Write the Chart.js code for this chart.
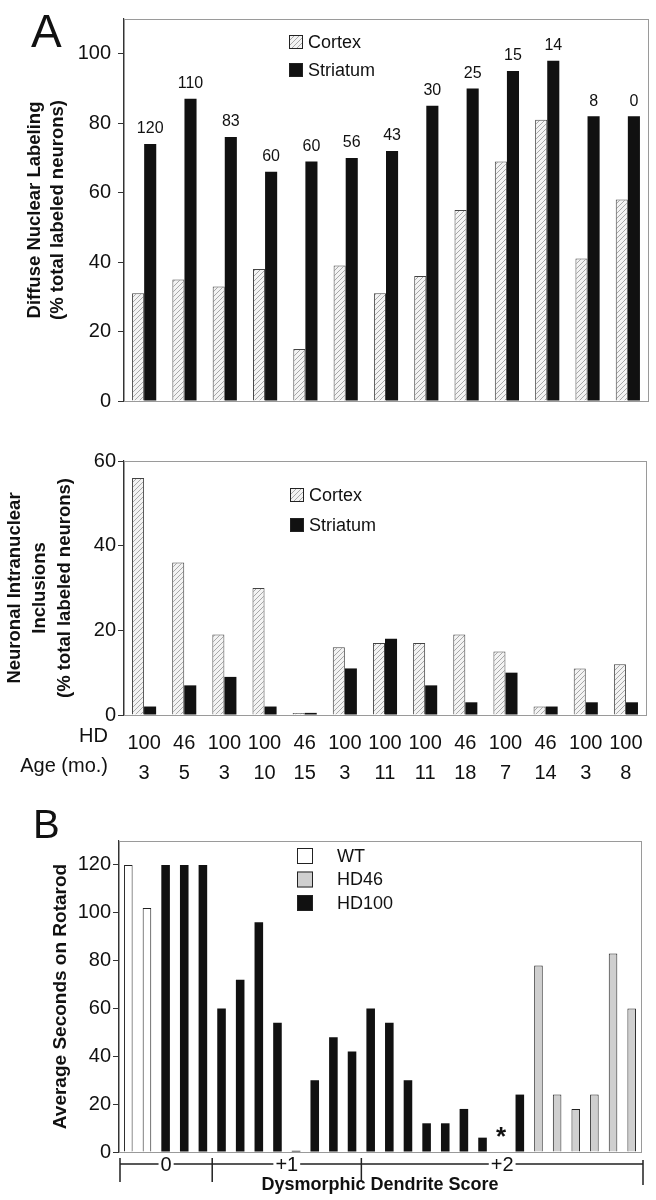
<!DOCTYPE html>
<html>
<head>
<meta charset="utf-8">
<script src="https://cdn.jsdelivr.net/npm/chart.js@4.4.1/dist/chart.umd.min.js"></script>
<style>
body { margin: 0; background: #fff; width: 656px; height: 1200px; position: relative; overflow: hidden; font-family: "Liberation Sans", Arial, sans-serif; }
.panel { position: absolute; left: 0; }
.letter { position: absolute; color: #111; z-index: 2; }
</style>
</head>
<body>
<canvas id="diffuseChart" class="panel" style="top:0" width="656" height="420"></canvas>
<canvas id="inclusionChart" class="panel" style="top:420px" width="656" height="370"></canvas>
<canvas id="rotarodChart" class="panel" style="top:790px" width="656" height="410"></canvas>
<div class="letter" style="left:31px;top:4px;font-size:46px;">A</div>
<div class="letter" style="left:33px;top:802px;font-size:40px;">B</div>
<script>
// panel A data (13 animals)
const hdLabels = ['100', '46', '100', '100', '46', '100', '100', '100', '46', '100', '46', '100', '100'];
const ageLabels = ['3', '5', '3', '10', '15', '3', '11', '11', '18', '7', '14', '3', '8'];
const neuronCounts = ['120', '110', '83', '60', '60', '56', '43', '30', '25', '15', '14', '8', '0'];
const diffuseCortex = [31, 35, 33, 38, 15, 39, 31, 36, 55, 69, 81, 41, 58];
const diffuseStriatum = [74, 87, 76, 66, 69, 70, 72, 85, 90, 95, 98, 82, 82];
const inclusionCortex = [56, 36, 19, 30, 0.5, 16, 17, 17, 19, 15, 2, 11, 12];
const inclusionStriatum = [2, 7, 9, 2, 0.5, 11, 18, 7, 3, 10, 2, 3, 3];

// panel B data (28 mice)
const mouseIds = ['1', '2', '3', '4', '5', '6', '7', '8', '9', '10', '11', '12', '13', '14',
    '15', '16', '17', '18', '19', '20', '21', '22', '23', '24', '25', '26', '27', '28'];
const wtSeconds = [120, 102, null, null, null, null, null, null, null, null, null, null, null, null,
    null, null, null, null, null, null, null, null, null, null, null, null, null, null];
const hd100Seconds = [null, null, 120, 120, 120, 60, 72, 96, 54, 0.5, 30, 48, 42, 60,
    54, 30, 12, 12, 18, 6, null, 24, null, null, null, null, null, null];
const hd46Seconds = [null, null, null, null, null, null, null, null, null, null, null, null, null, null,
    null, null, null, null, null, null, null, null, 78, 24, 18, 24, 83, 60];
const dendriteScores = [
    { label: '0', from: 0, to: 4 },
    { label: '+1', from: 5, to: 12 },
    { label: '+2', from: 13, to: 27 }
];
const starMouse = 20;

const FONT = '"Liberation Sans", Arial, sans-serif';
const INK = '#111';

function hatchPattern() {
    const c = document.createElement('canvas');
    c.width = 5; c.height = 5;
    const g = c.getContext('2d');
    g.fillStyle = '#f3f3f3';
    g.fillRect(0, 0, 5, 5);
    g.strokeStyle = '#a8a8a8';
    g.lineWidth = 1;
    g.beginPath();
    g.moveTo(0, 5); g.lineTo(5, 0);
    g.moveTo(-1, 1); g.lineTo(1, -1);
    g.moveTo(4, 6); g.lineTo(6, 4);
    g.stroke();
    return g.createPattern(c, 'repeat');
}
const hatch = hatchPattern();

// gray box round the plot area
const framePlugin = {
    id: 'frame',
    beforeDatasetsDraw(chart) {
        const { ctx, chartArea: a } = chart;
        ctx.save();
        ctx.strokeStyle = '#9a9a9a';
        ctx.lineWidth = 1;
        ctx.strokeRect(a.left + 0.5, a.top + 0.5, a.right - a.left, a.bottom - a.top);
        ctx.restore();
    }
};

// legend drawn inside the plot
const boxLegend = {
    id: 'boxLegend',
    afterDraw(chart, args, opts) {
        const { ctx, chartArea } = chart;
        ctx.save();
        ctx.font = opts.font;
        ctx.textBaseline = 'middle';
        chart.data.datasets.forEach((ds, i) => {
            const x = chartArea.left + opts.dx;
            const y = chartArea.top + opts.dy + i * opts.rowGap;
            ctx.fillStyle = ds.backgroundColor;
            ctx.fillRect(x, y, opts.box, opts.box);
            ctx.strokeStyle = '#222';
            ctx.lineWidth = 1;
            ctx.strokeRect(x + 0.5, y + 0.5, opts.box - 1, opts.box - 1);
            ctx.fillStyle = INK;
            ctx.fillText(ds.label, x + opts.box + opts.textGap, y + opts.box / 2 + 1);
        });
        ctx.restore();
    }
};

// neuron counts above the striatum bars
const countLabels = {
    id: 'countLabels',
    afterDatasetsDraw(chart) {
        const { ctx } = chart;
        const meta = chart.getDatasetMeta(1);
        ctx.save();
        ctx.font = '16px ' + FONT;
        ctx.fillStyle = INK;
        ctx.textAlign = 'center';
        ctx.textBaseline = 'bottom';
        meta.data.forEach((bar, i) => {
            ctx.fillText(neuronCounts[i], bar.x, bar.y - 7);
        });
        ctx.restore();
    }
};

// "HD" and "Age (mo.)" row names next to the tick labels
const rowNames = {
    id: 'rowNames',
    afterDraw(chart) {
        const { ctx, chartArea } = chart;
        ctx.save();
        ctx.font = '20px ' + FONT;
        ctx.fillStyle = INK;
        ctx.textAlign = 'right';
        ctx.textBaseline = 'middle';
        ctx.fillText('HD', 108, chartArea.bottom + 21);
        ctx.fillText('Age (mo.)', 108, chartArea.bottom + 51);
        ctx.restore();
    }
};

// score brackets under panel B and the asterisk
const scoreBrackets = {
    id: 'scoreBrackets',
    afterDraw(chart) {
        const { ctx, chartArea } = chart;
        const x = chart.scales.x, y = chart.scales.y;
        const slot = x.getPixelForValue(1) - x.getPixelForValue(0);
        const lineY = chartArea.bottom + 12;
        ctx.save();
        ctx.strokeStyle = '#222';
        ctx.lineWidth = 1.5;
        ctx.font = '20px ' + FONT;
        ctx.textAlign = 'center';
        ctx.textBaseline = 'middle';
        dendriteScores.forEach((g, i) => {
            const x0 = x.getPixelForValue(g.from) - slot / 2 + (i === 0 ? 1 : 0);
            const x1 = x.getPixelForValue(g.to) + slot / 2 + (i === dendriteScores.length - 1 ? 2 : 0);
            const mid = (x0 + x1) / 2;
            const half = ctx.measureText(g.label).width / 2 + 2;
            ctx.beginPath();
            ctx.moveTo(x0, lineY); ctx.lineTo(mid - half, lineY);
            ctx.moveTo(mid + half, lineY); ctx.lineTo(x1, lineY);
            ctx.moveTo(x0, lineY - 6); ctx.lineTo(x0, lineY + 18);
            if (i === dendriteScores.length - 1) {
                ctx.moveTo(x1, lineY - 4); ctx.lineTo(x1, lineY + 21);
            }
            ctx.stroke();
            ctx.fillStyle = INK;
            ctx.fillText(g.label, mid, lineY + 1);
        });
        ctx.font = 'bold 26px ' + FONT;
        ctx.textBaseline = 'alphabetic';
        ctx.fillText('*', x.getPixelForValue(starMouse), y.getPixelForValue(1) - 5);
        ctx.restore();
    }
};

function yAxis(width, max, title, titleSize, titleLineHeight, titlePadTop, tickPad) {
    return {
        min: 0,
        max: max,
        afterFit: s => { s.width = width; },
        afterBuildTicks: s => { s.ticks = s.ticks.filter(t => t.value % 20 === 0); },
        ticks: { stepSize: 20, padding: tickPad, color: INK, font: { family: FONT, size: 20 } },
        grid: { drawOnChartArea: false, tickLength: 6, color: '#333' },
        border: { display: true, color: '#333', width: 1.2 },
        title: {
            display: true,
            text: title,
            color: INK,
            font: { family: FONT, size: titleSize, weight: 'bold', lineHeight: titleLineHeight },
            padding: { top: titlePadTop, bottom: 0 }
        }
    };
}

Chart.defaults.animation = false;
Chart.defaults.responsive = false;
Chart.defaults.devicePixelRatio = 1;
Chart.defaults.plugins.legend.display = false;
Chart.defaults.plugins.tooltip.enabled = false;

new Chart(document.getElementById('diffuseChart'), {
    type: 'bar',
    data: {
        labels: hdLabels,
        datasets: [
            { label: 'Cortex', data: diffuseCortex, backgroundColor: hatch, borderColor: '#444', borderWidth: 1 },
            { label: 'Striatum', data: diffuseStriatum, backgroundColor: '#111', borderWidth: 0 }
        ]
    },
    options: {
        layout: { padding: { top: 7, right: 8, bottom: 13, left: 0 } },
        datasets: { bar: { categoryPercentage: 0.6, barPercentage: 1 } },
        scales: {
            x: { display: false },
            y: yAxis(124, 110, ['Diffuse Nuclear Labeling', '(% total labeled neurons)'], 18.5, 1.27, 23, 7)
        },
        plugins: {
            boxLegend: { dx: 165, dy: 16, box: 14, rowGap: 28, textGap: 5, font: '18px ' + FONT }
        }
    },
    plugins: [framePlugin, boxLegend, countLabels]
});

new Chart(document.getElementById('inclusionChart'), {
    type: 'bar',
    data: {
        labels: hdLabels.map((hd, i) => [hd, ageLabels[i]]),
        datasets: [
            { label: 'Cortex', data: inclusionCortex, backgroundColor: hatch, borderColor: '#444', borderWidth: 1 },
            { label: 'Striatum', data: inclusionStriatum, backgroundColor: '#111', borderWidth: 0 }
        ]
    },
    options: {
        layout: { padding: { top: 41, right: 10, bottom: 0, left: 0 } },
        datasets: { bar: { categoryPercentage: 0.6, barPercentage: 1 } },
        scales: {
            x: {
                afterFit: s => { s.height = 75; },
                ticks: {
                    padding: 5, color: INK, autoSkip: false, maxRotation: 0,
                    font: { family: FONT, size: 20, lineHeight: 1.5 }
                },
                grid: { display: false },
                border: { display: false }
            },
            y: yAxis(124, 60, ['Neuronal Intranuclear', 'Inclusions', '(% total labeled neurons)'], 18.5, 1.37, 2, 2)
        },
        plugins: {
            boxLegend: { dx: 166, dy: 27, box: 14, rowGap: 30, textGap: 5, font: '18px ' + FONT }
        }
    },
    plugins: [framePlugin, boxLegend, rowNames]
});

new Chart(document.getElementById('rotarodChart'), {
    type: 'bar',
    data: {
        labels: mouseIds,
        datasets: [
            { label: 'WT', data: wtSeconds, backgroundColor: '#ffffff', borderColor: '#222', borderWidth: 1 },
            { label: 'HD46', data: hd46Seconds, backgroundColor: '#cfcfcf', borderColor: '#222', borderWidth: 1 },
            { label: 'HD100', data: hd100Seconds, backgroundColor: '#111', borderColor: '#111', borderWidth: 0 }
        ]
    },
    options: {
        layout: { padding: { top: 51, right: 15, bottom: 0, left: 0 } },
        datasets: { bar: { grouped: false, categoryPercentage: 1, barPercentage: 0.46 } },
        scales: {
            x: {
                afterFit: s => { s.height = 48; },
                ticks: { display: false },
                grid: { display: false },
                border: { display: false },
                title: {
                    display: true,
                    text: 'Dysmorphic Dendrite Score',
                    color: INK,
                    font: { family: FONT, size: 18, weight: 'bold' },
                    padding: { top: 0, bottom: 4 }
                }
            },
            y: yAxis(119, 130, 'Average Seconds on Rotarod', 19, 1.2, 49, 2)
        },
        plugins: {
            boxLegend: { dx: 178, dy: 7, box: 16, rowGap: 23.5, textGap: 24, font: '18px ' + FONT }
        }
    },
    plugins: [framePlugin, boxLegend, scoreBrackets]
});
</script>
</body>
</html>
